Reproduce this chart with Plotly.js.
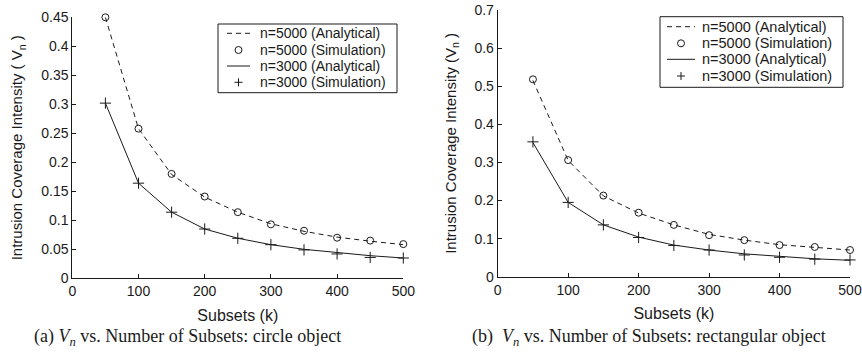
<!DOCTYPE html>
<html>
<head>
<meta charset="utf-8">
<script src="https://cdn.plot.ly/plotly-3.0.1.min.js"></script>
<style>html,body{margin:0;padding:0;background:#fff;}#chart{width:862px;height:353px;}</style>
</head>
<body>
<div id="chart"></div>
<script>
// Data
const subsets = [50, 100, 150, 200, 250, 300, 350, 400, 450, 500];

// (a) circle object
const circleN5000Analytical = [0.450, 0.258, 0.179, 0.140, 0.114, 0.094, 0.081, 0.071, 0.064, 0.058];
const circleN5000Simulation = [0.450, 0.258, 0.180, 0.141, 0.114, 0.093, 0.082, 0.070, 0.065, 0.059];
const circleN3000Analytical = [0.302, 0.164, 0.114, 0.085, 0.069, 0.058, 0.050, 0.044, 0.039, 0.035];
const circleN3000Simulation = [0.302, 0.164, 0.114, 0.085, 0.069, 0.058, 0.049, 0.042, 0.036, 0.035];

// (b) rectangular object
const rectN5000Analytical = [0.515, 0.305, 0.212, 0.167, 0.136, 0.111, 0.096, 0.084, 0.077, 0.070];
const rectN5000Simulation = [0.518, 0.306, 0.213, 0.168, 0.136, 0.109, 0.096, 0.083, 0.078, 0.070];
const rectN3000Analytical = [0.352, 0.195, 0.136, 0.104, 0.083, 0.070, 0.060, 0.053, 0.047, 0.043];
const rectN3000Simulation = [0.354, 0.195, 0.136, 0.103, 0.082, 0.070, 0.057, 0.051, 0.046, 0.044];

const seriesNames = ["n=5000 (Analytical)", "n=5000 (Simulation)", "n=3000 (Analytical)", "n=3000 (Simulation)"];
const xTickVals = [0, 100, 200, 300, 400, 500];
const leftYTicks = [0, 0.05, 0.1, 0.15, 0.2, 0.25, 0.3, 0.35, 0.4, 0.45];
const rightYTicks = [0, 0.1, 0.2, 0.3, 0.4, 0.5, 0.6, 0.7];

const ink = '#1a1a1a';
const sans = 'Liberation Sans, Arial, sans-serif';
const serif = 'Liberation Serif, Times New Roman, serif';
const dashPattern = '5px,4px';

function makeTraces(a5, s5, a3, s3, xa, ya) {
  return [
    {x: subsets, y: a5, name: seriesNames[0], type: 'scatter', mode: 'lines', xaxis: xa, yaxis: ya, cliponaxis: false,
     line: {color: ink, width: 1, dash: dashPattern}},
    {x: subsets, y: s5, name: seriesNames[1], type: 'scatter', mode: 'markers', xaxis: xa, yaxis: ya, cliponaxis: false,
     marker: {symbol: 'circle-open', size: 7, color: ink, line: {width: 1, color: ink}}},
    {x: subsets, y: a3, name: seriesNames[2], type: 'scatter', mode: 'lines', xaxis: xa, yaxis: ya, cliponaxis: false,
     line: {color: ink, width: 1}},
    {x: subsets, y: s3, name: seriesNames[3], type: 'scatter', mode: 'markers', xaxis: xa, yaxis: ya, cliponaxis: false,
     marker: {symbol: 'cross-thin-open', size: 8, color: ink, line: {width: 1, color: ink}}}
  ];
}

const data = [].concat(
  makeTraces(circleN5000Analytical, circleN5000Simulation, circleN3000Analytical, circleN3000Simulation, 'x', 'y'),
  makeTraces(rectN5000Analytical, rectN5000Simulation, rectN3000Analytical, rectN3000Simulation, 'x2', 'y2')
);

const W = 862, H = 353;
function px(v) { return v / W; }
function py(v) { return 1 - v / H; }

// Legend boxes (MATLAB-style), drawn as shapes + text
const shapes = [];
const annotations = [];
function addLegend(box, symX0, symX1, textX, rows, fontSize) {
  shapes.push({type: 'rect', xref: 'paper', yref: 'paper', x0: px(box[0]), x1: px(box[2]), y0: py(box[3]), y1: py(box[1]),
    line: {color: ink, width: 1}, fillcolor: '#ffffff', layer: 'above'});
  const cx = (symX0 + symX1) / 2;
  shapes.push({type: 'line', xref: 'paper', yref: 'paper', x0: px(symX0), x1: px(symX1), y0: py(rows[0]), y1: py(rows[0]),
    line: {color: ink, width: 1, dash: dashPattern}});
  shapes.push({type: 'circle', xref: 'paper', yref: 'paper', x0: px(cx - 3.5), x1: px(cx + 3.5), y0: py(rows[1] + 3.5), y1: py(rows[1] - 3.5),
    line: {color: ink, width: 1}});
  shapes.push({type: 'line', xref: 'paper', yref: 'paper', x0: px(symX0), x1: px(symX1), y0: py(rows[2]), y1: py(rows[2]),
    line: {color: ink, width: 1}});
  shapes.push({type: 'line', xref: 'paper', yref: 'paper', x0: px(cx - 4), x1: px(cx + 4), y0: py(rows[3]), y1: py(rows[3]),
    line: {color: ink, width: 1}});
  shapes.push({type: 'line', xref: 'paper', yref: 'paper', x0: px(cx), x1: px(cx), y0: py(rows[3] - 4), y1: py(rows[3] + 4),
    line: {color: ink, width: 1}});
  seriesNames.forEach(function (name, i) {
    annotations.push({xref: 'paper', yref: 'paper', x: px(textX), y: py(rows[i]), xanchor: 'left', yanchor: 'middle',
      showarrow: false, text: name, font: {family: sans, size: fontSize, color: ink}, borderpad: 0});
  });
}
addLegend([218, 24, 397, 92.7], 227, 250, 259, [33.3, 50, 66, 82.3], 14);
addLegend([660, 16.7, 843, 87.3], 667, 695, 701, [26.7, 43.3, 59.3, 76], 14.5);

annotations.push(
  {xref: 'paper', yref: 'paper', x: px(32), y: py(337), xanchor: 'left', yanchor: 'middle', showarrow: false,
   text: '(a) <i>V<sub>n</sub></i> vs. Number of Subsets: circle object', font: {family: serif, size: 18, color: ink}},
  {xref: 'paper', yref: 'paper', x: px(470), y: py(337), xanchor: 'left', yanchor: 'middle', showarrow: false,
   text: '(b)  <i>V<sub>n</sub></i> vs. Number of Subsets: rectangular object', font: {family: serif, size: 18, color: ink}}
);

const axisCommon = {
  showline: true, linecolor: ink, linewidth: 1, mirror: false,
  ticks: 'inside', ticklen: 4, tickwidth: 1, tickcolor: ink,
  showgrid: false, zeroline: false,
  tickfont: {family: sans, size: 14, color: ink},
  fixedrange: true
};

const layout = {
  width: W, height: H,
  margin: {l: 0, r: 0, t: 0, b: 0},
  paper_bgcolor: '#ffffff', plot_bgcolor: '#ffffff',
  showlegend: false,
  xaxis: Object.assign({}, axisCommon, {
    domain: [px(72.3), px(403.3)], range: [0, 500], tickvals: xTickVals, anchor: 'y',
    title: {text: 'Subsets (k)', font: {family: sans, size: 16, color: ink}, standoff: 11}
  }),
  yaxis: Object.assign({}, axisCommon, {
    domain: [py(278.3), py(17.3)], range: [0, 0.45], tickvals: leftYTicks, anchor: 'x',
    title: {text: 'Intrusion Coverage Intensity ( V<sub>n</sub> )', font: {family: sans, size: 15, color: ink}, standoff: 14}
  }),
  xaxis2: Object.assign({}, axisCommon, {
    domain: [px(497.7), px(850)], range: [0, 500], tickvals: xTickVals, anchor: 'y2',
    title: {text: 'Subsets (k)', font: {family: sans, size: 16, color: ink}, standoff: 11}
  }),
  yaxis2: Object.assign({}, axisCommon, {
    domain: [py(276.7), py(10)], range: [0, 0.7], tickvals: rightYTicks, anchor: 'x2',
    title: {text: 'Intrusion Coverage Intensity (V<sub>n</sub> )', font: {family: sans, size: 15, color: ink}, standoff: 14}
  }),
  shapes: shapes,
  annotations: annotations
};

Plotly.newPlot('chart', data, layout, {staticPlot: true, displayModeBar: false});
</script>
</body>
</html>
